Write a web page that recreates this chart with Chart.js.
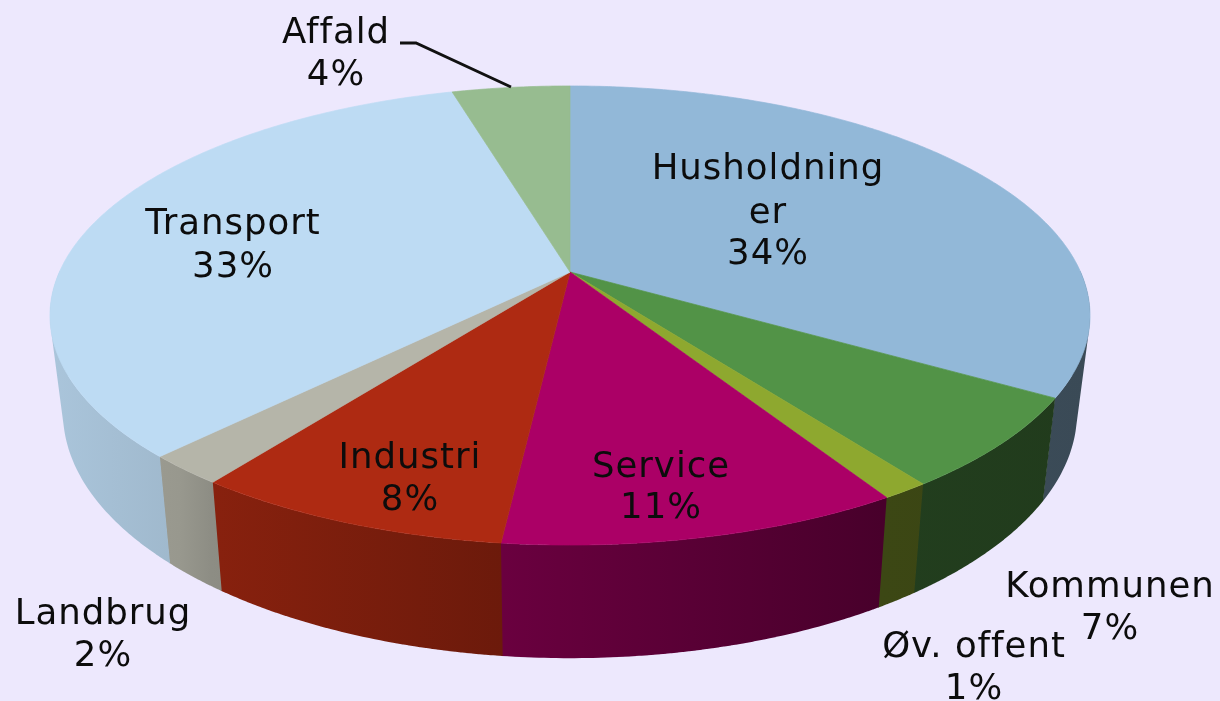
<!DOCTYPE html>
<html>
<head>
<meta charset="utf-8">
<style>
html,body{margin:0;padding:0;background:#EDE8FD;overflow:hidden}
canvas{display:block;filter:blur(0.6px)}
</style>
<script src="https://cdn.jsdelivr.net/npm/chart.js@4/dist/chart.umd.min.js"></script>
</head>
<body>
<canvas id="c" width="1220" height="701"></canvas>
<script>
const categories = ['Husholdninger','Kommunen','Øv. offent','Service','Industri','Landbrug','Transport','Affald'];
const sliceValues = [33.6, 6.45, 1.25, 10.45, 8.35, 2.1, 33.4, 4.4];
const percentLabels = ['34%','7%','1%','11%','8%','2%','33%','4%'];
const sliceColors = ['#92B8D8','#529347','#8EA82F','#AB0066','#AE2A12','#B5B5A9','#BDDBF3','#97BC90'];

// Projection of the unit pie onto the picture (seen from above, in perspective)
const CX = 570, CY = 272, P = 0.1895, A = 221.3, B = 510.6;
const top3d = (a) => {
  const u = Math.cos(a), v = Math.sin(a), w = 1 - P * v;
  return [B * u / w, A * v / w];
};
const toTop = (a) => { const p = top3d(a); return [CX + p[0], CY + p[1]]; };
const toBottom = (a) => { const p = top3d(a); return [CX + 0.975 * p[0], CY + 94 + 1.07 * p[1]]; };

const shadeStops = [[-1,.90],[-.75,.84],[-.69,.78],[-.13,.62],[.6,.42],[1,.40]];
function shaded(hex, k){
  const n = parseInt(hex.slice(1), 16);
  return `rgb(${Math.round((n>>16&255)*k)},${Math.round((n>>8&255)*k)},${Math.round((n&255)*k)})`;
}

const pie3d = {
  id: 'pie3d',
  beforeDatasetDraw(chart, args) {
    const ctx = chart.ctx, arcs = args.meta.data;
    ctx.save();
    // side wall of each slice: front half only, shaded from left to right
    arcs.forEach((arc, i) => {
      const n = Math.max(4, Math.ceil((arc.endAngle - arc.startAngle) / 0.01));
      const g = ctx.createLinearGradient(CX - 520, 0, CX + 520, 0);
      shadeStops.forEach(s => g.addColorStop((s[0] + 1) / 2, shaded(sliceColors[i], s[1])));
      ctx.fillStyle = g;
      ctx.beginPath();
      for (let k = 0; k < n; k++) {
        const a0 = arc.startAngle + (arc.endAngle - arc.startAngle) * k / n;
        const a1 = arc.startAngle + (arc.endAngle - arc.startAngle) * (k + 1.2) / n;
        if (Math.sin(a0) < 0 && Math.sin(a1) < 0) continue;
        let q = [toTop(a0), toTop(a1), toBottom(a1), toBottom(a0)];
        let area = 0;
        q.forEach((p, j) => { const r = q[(j + 1) % 4]; area += p[0] * r[1] - r[0] * p[1]; });
        if (area < 0) q = q.reverse();
        q.forEach((p, j) => j ? ctx.lineTo(p[0], p[1]) : ctx.moveTo(p[0], p[1]));
        ctx.closePath();
      }
      ctx.fill('nonzero');
    });
    // top face of each slice
    arcs.forEach((arc, i) => {
      const n = Math.max(4, Math.ceil((arc.endAngle - arc.startAngle) / 0.01));
      ctx.fillStyle = sliceColors[i]; ctx.strokeStyle = sliceColors[i]; ctx.lineWidth = 0.7;
      ctx.beginPath();
      ctx.moveTo(CX, CY);
      for (let k = 0; k <= n; k++) {
        const q = toTop(arc.startAngle + (arc.endAngle - arc.startAngle) * k / n);
        ctx.lineTo(q[0], q[1]);
      }
      ctx.closePath(); ctx.fill(); ctx.stroke();
    });
    ctx.restore();
    return false;
  },
  afterDraw(chart) {
    const ctx = chart.ctx;
    ctx.save();
    // leader line of the Affald label
    ctx.strokeStyle = '#111'; ctx.lineWidth = 3;
    ctx.beginPath(); ctx.moveTo(400, 43); ctx.lineTo(416, 43); ctx.lineTo(511, 87); ctx.stroke();
    ctx.fillStyle = '#0c0c0c';
    ctx.font = '35.5px "DejaVu Sans"';
    ctx.letterSpacing = '1px';
    ctx.textAlign = 'center'; ctx.textBaseline = 'middle';
    const spots = [
      [768,[170,214,255]], [1110,[588,630]], [974,[648,690]], [661,[468,509]],
      [410,[459,501]], [103,[615,657]], [233,[225,268]], [336,[34,76]]
    ];
    categories.forEach((name, i) => {
      const lines = name === 'Husholdninger' ? ['Husholdning','er'] : [name];
      lines.concat(percentLabels[i]).forEach((t, j) => ctx.fillText(t, spots[i][0], spots[i][1][j]));
    });
    ctx.restore();
  }
};

new Chart(document.getElementById('c'), {
  type: 'pie',
  data: { labels: categories, datasets: [{ data: sliceValues, backgroundColor: sliceColors, borderWidth: 0 }] },
  options: {
    responsive: false, animation: false,
    plugins: { legend: { display: false }, tooltip: { enabled: false } }
  },
  plugins: [pie3d]
});
</script>
</body>
</html>
